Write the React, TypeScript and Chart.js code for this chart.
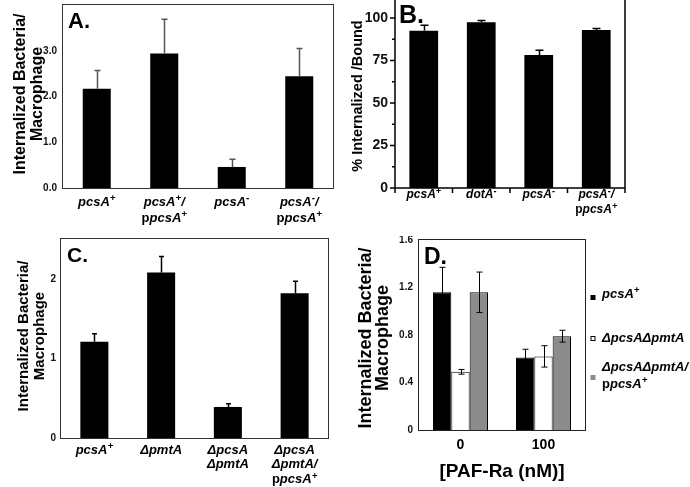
import React, { useEffect, useRef } from "react";
import { Chart, registerables } from "chart.js";
Chart.register(...registerables);

const FONT = "'Liberation Sans', Arial, Helvetica, sans-serif";

// ---------- Panel A ----------
const aCategories = [["pcsA⁺"], ["pcsA⁺/", "ppcsA⁺"], ["pcsA⁻"], ["pcsA⁻/", "ppcsA⁺"]];
const aValues = [2.17, 2.94, 0.46, 2.44];
const aErrors = [0.4, 0.75, 0.17, 0.61];
const aTicks = [0, 1, 2, 3];
const aTitle = ["Internalized Bacteria/", "Macrophage"];

// ---------- Panel B ----------
const bCategories = [["pcsA⁺"], ["dotA⁻"], ["pcsA⁻"], ["pcsA⁻/", "ppcsA⁺"]];
const bValues = [92.5, 97.5, 78.2, 93.0];
const bErrors = [3.2, 1.0, 2.8, 0.8];
const bTicks = [0, 25, 50, 75, 100];
const bTitle = ["% Internalized /Bound"];

// ---------- Panel C ----------
const cCategories = [["pcsA⁺"], ["ΔpmtA"], ["ΔpcsA", "ΔpmtA"], ["ΔpcsA", "ΔpmtA/", "ppcsA⁺"]];
const cValues = [1.21, 2.08, 0.39, 1.82];
const cErrors = [0.1, 0.2, 0.04, 0.15];
const cTicks = [0, 1, 2];
const cTitle = ["Internalized Bacteria/", "Macrophage"];

// ---------- Panel D ----------
const dGroups = ["0", "100"];
const dSeriesNames = [["pcsA⁺"], ["ΔpcsAΔpmtA"], ["ΔpcsAΔpmtA/", "ppcsA⁺"]];
const dPcsA = [1.16, 0.61];
const dPcsAErr = [0.21, 0.07];
const dDouble = [0.49, 0.62];
const dDoubleErr = [0.02, 0.09];
const dComp = [1.16, 0.79];
const dCompErr = [0.17, 0.05];
const dTicks = [0, 0.4, 0.8, 1.2, 1.6];
const dTitle = ["Internalized Bacteria/", "Macrophage"];
const dXTitle = "[PAF-Ra (nM)]";

type Seg = { t: string; italic: boolean; sup: boolean };

function parseRich(s: string, italic: boolean): Seg[] {
  const segs: Seg[] = [];
  let i = 0;
  if (italic && /^p(?=pcsA)/.test(s)) {
    segs.push({ t: "p", italic: false, sup: false });
    i = 1;
  }
  let buf = "";
  for (; i < s.length; i++) {
    const c = s[i];
    if (c === "⁺" || c === "⁻") {
      if (buf) {
        segs.push({ t: buf, italic, sup: false });
        buf = "";
      }
      segs.push({ t: c === "⁺" ? "+" : "-", italic, sup: true });
    } else buf += c;
  }
  if (buf) segs.push({ t: buf, italic, sup: false });
  return segs;
}

function fontStr(size: number, italic: boolean) {
  return `${italic ? "italic " : ""}bold ${size}px ${FONT}`;
}

function drawRich(
  ctx: CanvasRenderingContext2D,
  s: string,
  x: number,
  y: number,
  size: number,
  align: "center" | "left",
  italic: boolean
) {
  const segs = parseRich(s, italic);
  const supSize = size * 0.75;
  let w = 0;
  const widths = segs.map((sg) => {
    ctx.font = fontStr(sg.sup ? supSize : size, sg.italic);
    const m = ctx.measureText(sg.t).width;
    w += m;
    return m;
  });
  let cx = align === "center" ? x - w / 2 : x;
  ctx.textAlign = "left";
  ctx.textBaseline = "alphabetic";
  const base = y + size * 0.36;
  segs.forEach((sg, k) => {
    ctx.font = fontStr(sg.sup ? supSize : size, sg.italic);
    ctx.fillText(sg.t, cx, sg.sup ? base - size * 0.36 : base);
    cx += widths[k];
  });
}

type Spec = {
  pos: { left: number; top: number; width: number; height: number };
  area: { left: number; top: number; right: number; bottom: number };
  labels: string[][];
  datasets: any[];
  errors: number[][];
  twoSided: boolean;
  errColor: string;
  errWidth: number;
  capW: number;
  yMin: number;
  yMax: number;
  yStep: number;
  yShown: number[];
  yFmt: (v: number) => string;
  yFont: number;
  yPad: number;
  frame: "box" | "open";
  frameColor: string;
  letter: string;
  letterX: number;
  letterY: number;
  letterSize: number;
  title: string[];
  titleBase: number[];
  titleY: number;
  titleSize: number;
  catY: number;
  catLineH: number;
  catSize: number;
  catItalic: boolean;
  extra?: (chart: any, ctx: CanvasRenderingContext2D) => void;
};

function near(list: number[], v: number) {
  return list.some((t) => Math.abs(t - v) < 1e-6);
}

function buildChart(canvas: HTMLCanvasElement, spec: Spec) {
  const { pos, area } = spec;
  const decor = {
    id: "panelDecor",
    afterDatasetsDraw(chart: any) {
      const ctx: CanvasRenderingContext2D = chart.ctx;
      const ys = chart.scales.y;
      const xs = chart.scales.x;
      const ca = chart.chartArea;
      ctx.save();
      // error bars
      ctx.strokeStyle = spec.errColor;
      ctx.lineWidth = spec.errWidth;
      spec.datasets.forEach((ds: any, di: number) => {
        const meta = chart.getDatasetMeta(di);
        meta.data.forEach((bar: any, i: number) => {
          const v = ds.data[i];
          const e = spec.errors[di][i];
          const x = Math.round(bar.x) + 0.5;
          const yt = ys.getPixelForValue(v + e);
          const yb = spec.twoSided ? ys.getPixelForValue(v - e) : ys.getPixelForValue(v);
          ctx.beginPath();
          ctx.moveTo(x, yb);
          ctx.lineTo(x, yt);
          ctx.moveTo(x - spec.capW / 2, yt);
          ctx.lineTo(x + spec.capW / 2, yt);
          if (spec.twoSided) {
            ctx.moveTo(x - spec.capW / 2, yb);
            ctx.lineTo(x + spec.capW / 2, yb);
          }
          ctx.stroke();
        });
      });
      // frame
      ctx.strokeStyle = spec.frameColor;
      if (spec.frame === "box") {
        ctx.lineWidth = 1;
        ctx.strokeRect(
          Math.round(ca.left) - 0.5,
          Math.round(ca.top) - 0.5,
          Math.round(ca.right - ca.left) + 1,
          Math.round(ca.bottom - ca.top) + 1
        );
      } else {
        ctx.lineWidth = 1.5;
        ctx.beginPath();
        ctx.moveTo(ca.left, ca.top - 1);
        ctx.lineTo(ca.left, ca.bottom);
        ctx.lineTo(ca.right, ca.bottom);
        ctx.moveTo(ca.right, ca.top - 1);
        ctx.lineTo(ca.right, ca.bottom);
        // y tick marks (major / minor)
        ys.ticks.forEach((t: any) => {
          const y = ys.getPixelForValue(t.value);
          const len = near(spec.yShown, t.value) ? 5 : 3;
          ctx.moveTo(ca.left, y);
          ctx.lineTo(ca.left - len, y);
        });
        // x tick marks at category boundaries
        for (let i = 0; i <= spec.labels.length; i++) {
          const x = xs.getPixelForValue(i - 0.5);
          ctx.moveTo(x, ca.bottom);
          ctx.lineTo(x, ca.bottom + 5);
        }
        ctx.stroke();
      }
      ctx.restore();
    },
    afterDraw(chart: any) {
      const ctx: CanvasRenderingContext2D = chart.ctx;
      const xs = chart.scales.x;
      ctx.save();
      ctx.fillStyle = "#000";
      // category labels
      spec.labels.forEach((lines, i) => {
        const x = xs.getPixelForValue(i);
        lines.forEach((ln, k) => {
          drawRich(ctx, ln, x, spec.catY + k * spec.catLineH, spec.catSize, "center", spec.catItalic);
        });
      });
      // axis title (rotated)
      spec.title.forEach((ln, k) => {
        ctx.save();
        ctx.translate(spec.titleBase[k], spec.titleY);
        ctx.rotate(-Math.PI / 2);
        ctx.font = fontStr(spec.titleSize, false);
        ctx.textAlign = "center";
        ctx.textBaseline = "alphabetic";
        ctx.fillText(ln, 0, 0);
        ctx.restore();
      });
      // panel letter
      ctx.font = fontStr(spec.letterSize, false);
      ctx.textAlign = "left";
      ctx.textBaseline = "alphabetic";
      ctx.fillText(spec.letter, spec.letterX, spec.letterY);
      if (spec.extra) spec.extra(chart, ctx);
      ctx.restore();
    },
  };

  return new Chart(canvas, {
    type: "bar",
    data: {
      labels: spec.labels.map((l) => l.join(" ")),
      datasets: spec.datasets,
    },
    options: {
      animation: false,
      responsive: false,
      maintainAspectRatio: false,
      events: [],
      layout: { padding: { left: 0, top: area.top, right: pos.width - area.right, bottom: 0 } },
      plugins: { legend: { display: false }, tooltip: { enabled: false }, title: { display: false } },
      scales: {
        x: {
          offset: true,
          grid: { display: false, drawTicks: false },
          border: { display: false },
          ticks: { display: false },
          afterFit: (s: any) => {
            s.height = pos.height - area.bottom;
            s.paddingLeft = 0;
            s.paddingRight = 0;
          },
        },
        y: {
          min: spec.yMin,
          max: spec.yMax,
          grid: { display: false, drawTicks: false },
          border: { display: false },
          ticks: {
            stepSize: spec.yStep,
            includeBounds: false,
            autoSkip: false,
            padding: spec.yPad,
            color: "#111",
            font: { family: FONT, size: spec.yFont, weight: "bold" },
            callback: (v: any) => (near(spec.yShown, Number(v)) ? spec.yFmt(Number(v)) : ""),
          },
          afterFit: (s: any) => {
            s.width = area.left;
            s.paddingTop = 0;
            s.paddingBottom = 0;
          },
        },
      },
    },
    plugins: [decor],
  } as any);
}

const specA: Spec = {
  pos: { left: 0, top: 0, width: 345, height: 240 },
  area: { left: 63, top: 5, right: 333, bottom: 188 },
  labels: aCategories,
  datasets: [{ data: aValues, backgroundColor: "#000", barPercentage: 0.415, categoryPercentage: 1 }],
  errors: [aErrors],
  twoSided: false,
  errColor: "#555",
  errWidth: 1.5,
  capW: 6,
  yMin: 0,
  yMax: 4,
  yStep: 1,
  yShown: aTicks,
  yFmt: (v) => v.toFixed(1),
  yFont: 10,
  yPad: 6,
  frame: "box",
  frameColor: "#333",
  letter: "A.",
  letterX: 68,
  letterY: 28,
  letterSize: 22,
  title: aTitle,
  titleBase: [25, 42],
  titleY: 94,
  titleSize: 16,
  catY: 201,
  catLineH: 16,
  catSize: 13,
  catItalic: true,
};

const specB: Spec = {
  pos: { left: 345, top: 0, width: 345, height: 240 },
  area: { left: 50, top: 1, right: 280, bottom: 188 },
  labels: bCategories,
  datasets: [{ data: bValues, backgroundColor: "#000", barPercentage: 0.5, categoryPercentage: 1 }],
  errors: [bErrors],
  twoSided: false,
  errColor: "#000",
  errWidth: 1.5,
  capW: 8,
  yMin: 0,
  yMax: 110,
  yStep: 12.5,
  yShown: bTicks,
  yFmt: (v) => String(v),
  yFont: 14,
  yPad: 7,
  frame: "open",
  frameColor: "#000",
  letter: "B.",
  letterX: 54,
  letterY: 23,
  letterSize: 25,
  title: bTitle,
  titleBase: [17],
  titleY: 96,
  titleSize: 14.5,
  catY: 194,
  catLineH: 15,
  catSize: 12,
  catItalic: true,
};

const specC: Spec = {
  pos: { left: 0, top: 236, width: 345, height: 251 },
  area: { left: 61, top: 3, right: 328, bottom: 202 },
  labels: cCategories,
  datasets: [{ data: cValues, backgroundColor: "#000", barPercentage: 0.42, categoryPercentage: 1 }],
  errors: [cErrors],
  twoSided: false,
  errColor: "#000",
  errWidth: 1.5,
  capW: 5,
  yMin: 0,
  yMax: 2.5,
  yStep: 1,
  yShown: cTicks,
  yFmt: (v) => String(v),
  yFont: 10,
  yPad: 5,
  frame: "box",
  frameColor: "#333",
  letter: "C.",
  letterX: 67,
  letterY: 26,
  letterSize: 21,
  title: cTitle,
  titleBase: [27.5, 44],
  titleY: 100,
  titleSize: 15,
  catY: 213,
  catLineH: 14.8,
  catSize: 13,
  catItalic: true,
};

const dColors = ["#000", "#fff", "#8c8c8c"];

const specD: Spec = {
  pos: { left: 345, top: 236, width: 345, height: 251 },
  area: { left: 74, top: 4, right: 240, bottom: 194 },
  labels: dGroups.map((g) => [g]),
  datasets: [dPcsA, dDouble, dComp].map((data, i) => ({
    label: dSeriesNames[i].join(" "),
    data,
    backgroundColor: dColors[i],
    borderColor: "#000",
    borderWidth: 1,
    barPercentage: 1,
    categoryPercentage: 0.663,
  })),
  errors: [dPcsAErr, dDoubleErr, dCompErr],
  twoSided: true,
  errColor: "#000",
  errWidth: 1,
  capW: 6,
  yMin: 0,
  yMax: 1.6,
  yStep: 0.4,
  yShown: dTicks,
  yFmt: (v) => (v === 0 ? "0" : v.toFixed(1)),
  yFont: 10,
  yPad: 6,
  frame: "box",
  frameColor: "#222",
  letter: "D.",
  letterX: 79,
  letterY: 27.5,
  letterSize: 23,
  title: dTitle,
  titleBase: [26, 43],
  titleY: 102,
  titleSize: 18,
  catY: 208,
  catLineH: 15,
  catSize: 14,
  catItalic: false,
  extra: (chart, ctx) => {
    // x-axis title
    ctx.font = fontStr(19, false);
    ctx.textAlign = "center";
    ctx.textBaseline = "middle";
    ctx.fillStyle = "#000";
    const ca = chart.chartArea;
    ctx.fillText(dXTitle, (ca.left + ca.right) / 2, 236);
    // legend
    const sqY = [61.5, 102.5, 141.5];
    const txY = [[57], [101.7], [130, 147]];
    dSeriesNames.forEach((lines, i) => {
      const s = 5;
      ctx.fillStyle = dColors[i];
      ctx.fillRect(248 - s / 2, sqY[i] - s / 2, s, s);
      if (i === 1) {
        ctx.strokeStyle = "#000";
        ctx.lineWidth = 1;
        ctx.strokeRect(248 - s / 2 + 0.5, sqY[i] - s / 2 + 0.5, s - 1, s - 1);
      }
      ctx.fillStyle = "#000";
      lines.forEach((ln, k) => {
        drawRich(ctx, ln, 257, txY[i][k], 13, "left", true);
      });
    });
  },
};

function Panel({ spec }: { spec: Spec }) {
  const ref = useRef<HTMLCanvasElement>(null);
  useEffect(() => {
    if (!ref.current) return;
    const chart = buildChart(ref.current, spec);
    return () => chart.destroy();
  }, [spec]);
  const { left, top, width, height } = spec.pos;
  return (
    <canvas
      ref={ref}
      width={width}
      height={height}
      style={{ position: "absolute", left, top, width, height }}
    />
  );
}

export default function App() {
  return (
    <div
      style={{
        position: "absolute",
        left: 0,
        top: 0,
        width: 690,
        height: 487,
        background: "#fff",
        overflow: "hidden",
      }}
    >
      <Panel spec={specA} />
      <Panel spec={specB} />
      <Panel spec={specC} />
      <Panel spec={specD} />
    </div>
  );
}
